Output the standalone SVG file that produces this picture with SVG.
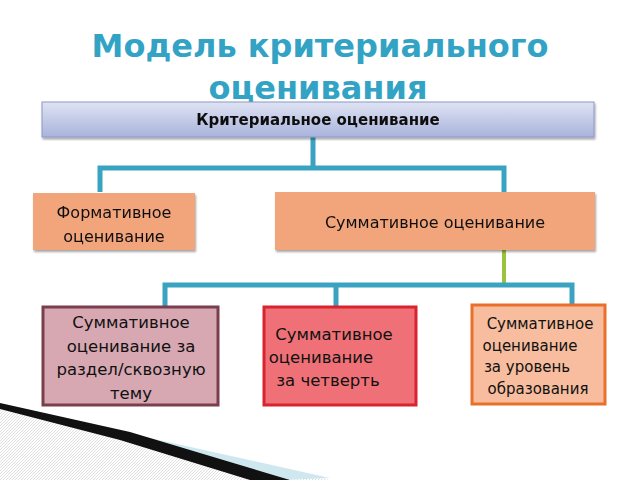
<svg xmlns="http://www.w3.org/2000/svg" width="640" height="480" viewBox="0 0 640 480">
<defs>
<linearGradient id="g1" x1="0" y1="0" x2="0" y2="1"><stop offset="0" stop-color="#dfe3f3"/><stop offset="1" stop-color="#a9b3dc"/></linearGradient>
<pattern id="hatch" width="3" height="3" patternUnits="userSpaceOnUse"><rect width="3" height="3" fill="#fff"/><path d="M0,3 L3,0" stroke="#c8c8c8" stroke-width="0.6"/></pattern>
<filter id="sh"><feDropShadow dx="1" dy="2" stdDeviation="1" flood-opacity="0.35"/></filter>
</defs>
<style>
text{font-family:"DejaVu Sans","Noto Sans",sans-serif;fill:#111}
.c{fill:none;stroke:#3ba3c2;stroke-width:5}
</style>
<rect width="640" height="480" fill="#fff"/>
<g id="decor">
<polygon points="0,406 0,480 330,480" fill="url(#hatch)"/>
<polygon points="0,403 150,438 330,478 280,480" fill="#cfe8ef"/>
<polygon points="0,403 130,432 230,462 290,480 250,480 120,440 0,409" fill="#111"/>
</g>
<text x="320" y="57" text-anchor="middle" font-size="32" font-weight="bold" style="fill:#32a3c4">Модель критериального</text>
<text x="318" y="99" text-anchor="middle" font-size="32" font-weight="bold" style="fill:#32a3c4">оценивания</text>
<g id="connectors">
<path class="c" d="M313,137 V168 M100,192 V168 H504 V192"/>
<path d="M504,250 V284" stroke="#9ac23c" stroke-width="4" fill="none"/>
<path class="c" d="M165,306 V285 H572 V304 M336,285 V306"/>
</g>
<g id="top" filter="url(#sh)"><rect x="42" y="102" width="552" height="35" fill="url(#g1)" stroke="#8d97c7"/>
<text x="318" y="125" text-anchor="middle" font-size="15" font-weight="bold">Критериальное оценивание</text></g>
<g id="formative" filter="url(#sh)"><rect x="33" y="193" width="162" height="57" fill="#f2a47a"/>
<text x="114" y="218" text-anchor="middle" font-size="16">Формативное</text>
<text x="114" y="242" text-anchor="middle" font-size="16">оценивание</text></g>
<g id="summative" filter="url(#sh)"><rect x="275" y="192" width="320" height="58" fill="#f2a47a"/>
<text x="435" y="228" text-anchor="middle" font-size="16">Суммативное оценивание</text></g>
<g id="s1"><rect x="43" y="307" width="175" height="98" fill="#d7a8b2" stroke="#7a3e4e" stroke-width="3"/>
<text x="131" y="328" text-anchor="middle" font-size="16.5">Суммативное</text>
<text x="131" y="352" text-anchor="middle" font-size="16.5">оценивание  за</text>
<text x="131" y="375" text-anchor="middle" font-size="16.5">раздел/сквозную</text>
<text x="131" y="399" text-anchor="middle" font-size="16.5">тему</text></g>
<g id="s2"><rect x="264" y="307" width="152" height="98" fill="#ef7177" stroke="#d9232e" stroke-width="3"/>
<text x="334" y="340" text-anchor="middle" font-size="16.5">Суммативное</text>
<text x="321" y="363" text-anchor="middle" font-size="16.5">оценивание</text>
<text x="328" y="386" text-anchor="middle" font-size="16.5">за четверть</text></g>
<g id="s3"><rect x="472" y="305" width="133" height="99" fill="#f7bd9e" stroke="#e9702a" stroke-width="3"/>
<text x="540" y="329" text-anchor="middle" font-size="15">Суммативное</text>
<text x="530" y="351" text-anchor="middle" font-size="15">оценивание</text>
<text x="527" y="372" text-anchor="middle" font-size="15">за  уровень</text>
<text x="538" y="394" text-anchor="middle" font-size="15">образования</text></g>
</svg>
